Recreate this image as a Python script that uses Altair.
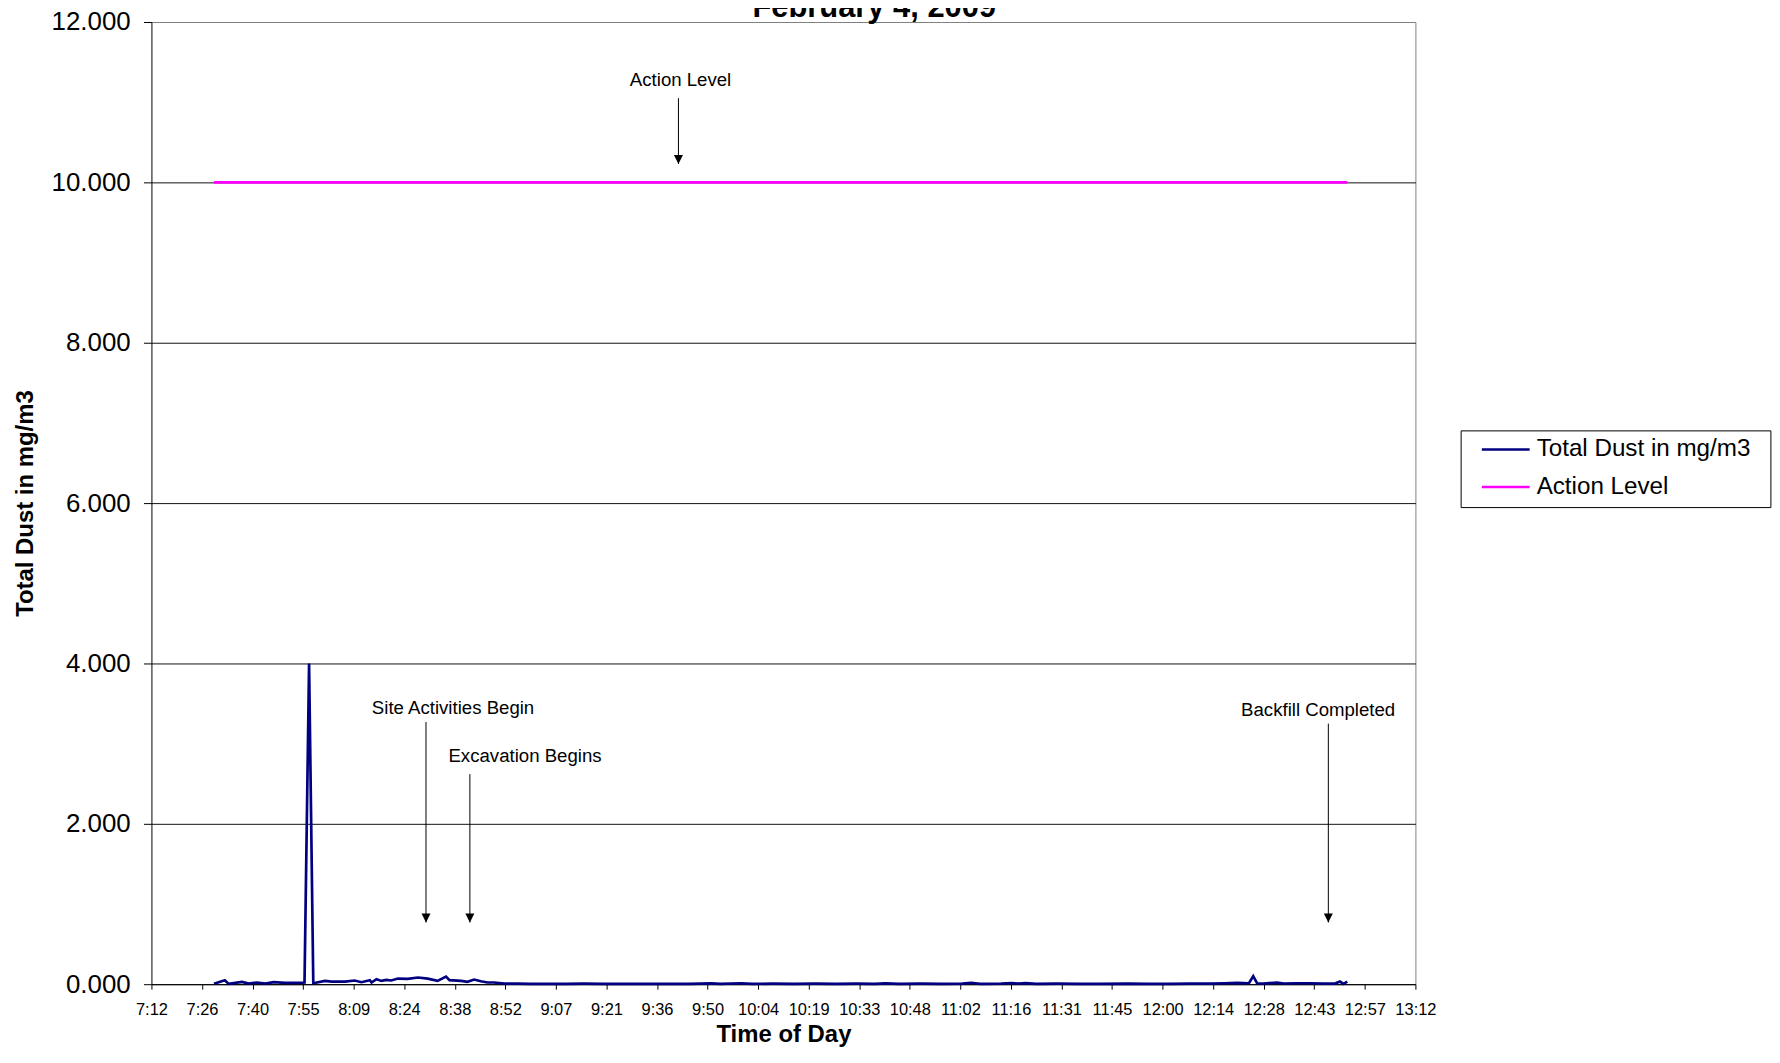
import altair as alt
import pandas as pd

FONT = "Liberation Sans"

CHART_TITLE = "February 4, 2009"
X_TITLE = "Time of Day"
Y_TITLE = "Total Dust in mg/m3"
SERIES = ["Total Dust in mg/m3", "Action Level"]
SERIES_COLORS = ["#000080", "#FF00FF"]

X_TICK_LABELS = ["7:12", "7:26", "7:40", "7:55", "8:09", "8:24", "8:38", "8:52",
                 "9:07", "9:21", "9:36", "9:50", "10:04", "10:19", "10:33", "10:48",
                 "11:02", "11:16", "11:31", "11:45", "12:00", "12:14", "12:28",
                 "12:43", "12:57", "13:12"]
X_START = 0.30   # Excel day fraction of first tick (7:12)
X_STEP = 0.01    # Excel major unit (14.4 minutes)
Y_TICKS = [0, 2, 4, 6, 8, 10, 12]

DUST_TIMES = [
    "7:29:48", "7:32:54", "7:34:00", "7:37:48", "7:39:42", "7:42:06", "7:44:24",
    "7:46:48", "7:50:06", "7:53:54", "7:55:36", "7:56:54", "7:58:06", "8:01:24",
    "8:03:18", "8:07:06", "8:09:54", "8:11:48", "8:14:12", "8:14:42", "8:16:06",
    "8:17:30", "8:18:54", "8:20:18", "8:22:12", "8:25:00", "8:27:54", "8:30:42",
    "8:33:30", "8:35:54", "8:36:54", "8:40:12", "8:42:00", "8:43:54", "8:45:48",
    "8:47:42", "8:49:36", "8:52:30", "8:56:12", "9:00:00", "9:04:00", "9:10:00",
    "9:15:00", "9:21:00", "9:27:00", "9:33:00", "9:39:00", "9:45:00", "9:51:30",
    "9:54:00", "10:00:00", "10:03:00", "10:09:00", "10:15:00", "10:21:00",
    "10:27:00", "10:33:00", "10:38:00", "10:41:00", "10:45:00", "10:51:00",
    "10:57:00", "11:03:00", "11:05:30", "11:08:00", "11:14:00", "11:17:00",
    "11:19:00", "11:21:00", "11:24:00", "11:30:00", "11:36:00", "11:42:00",
    "11:50:00", "11:56:00", "12:02:00", "12:08:00", "12:14:00", "12:17:30",
    "12:21:18", "12:24:36", "12:25:48", "12:26:54", "12:28:48", "12:32:36",
    "12:34:30", "12:38:12", "12:42:00", "12:45:48", "12:49:06", "12:50:30",
    "12:51:30", "12:52:36",
]
DUST_VALUES = [
    0.005, 0.050, 0.004, 0.029, 0.008, 0.021, 0.008,
    0.025, 0.017, 0.017, 0.021, 4.000, 0.012, 0.041,
    0.033, 0.033, 0.046, 0.025, 0.050, 0.021, 0.062,
    0.041, 0.054, 0.046, 0.070, 0.066, 0.083, 0.070,
    0.041, 0.095, 0.050, 0.041, 0.029, 0.058, 0.037,
    0.021, 0.021, 0.008, 0.008, 0.004, 0.005, 0.004,
    0.006, 0.004, 0.005, 0.004, 0.005, 0.004, 0.010,
    0.004, 0.012, 0.004, 0.006, 0.004, 0.006,
    0.005, 0.006, 0.004, 0.010, 0.004, 0.006,
    0.005, 0.006, 0.018, 0.005, 0.006, 0.015,
    0.006, 0.014, 0.005, 0.006, 0.005, 0.004,
    0.008, 0.005, 0.005, 0.006, 0.007, 0.012,
    0.016, 0.012, 0.100, 0.012, 0.008, 0.020,
    0.008, 0.012, 0.012, 0.008, 0.008, 0.033,
    0.004, 0.033,
]
ACTION_LEVEL = 10.0

# annotation texts (centre time, baseline value)
NOTE_TEXTS = ["Action Level", "Site Activities Begin", "Excavation Begins", "Backfill Completed"]
NOTE_TEXT_TIMES = ["9:42:42", "8:37:54", "8:58:24", "12:44:18"]
NOTE_TEXT_VALUES = [11.20, 3.37, 2.77, 3.35]
# annotation arrows (time, top value, tip value)
ARROW_TIMES = ["9:42:06", "8:30:12", "8:42:42", "12:47:12"]
ARROW_TOPS = [11.05, 3.27, 2.62, 3.25]
ARROW_TIPS = [10.23, 0.77, 0.77, 0.77]


def day_frac(t):
    parts = [int(p) for p in t.split(":")]
    while len(parts) < 3:
        parts.append(0)
    h, m, s = parts
    return (h * 3600 + m * 60 + s) / 86400.0


x_ticks = [round(X_START + i * X_STEP, 4) for i in range(len(X_TICK_LABELS))]
label_array = "[" + ",".join("'" + s + "'" for s in X_TICK_LABELS) + "]"
label_expr = f"{label_array}[round((datum.value - {X_START}) / {X_STEP})]"

dust_x = [day_frac(t) for t in DUST_TIMES]
lines_df = pd.DataFrame({
    "x": dust_x + [dust_x[0], dust_x[-1]],
    "y": DUST_VALUES + [ACTION_LEVEL, ACTION_LEVEL],
    "series": [SERIES[0]] * len(dust_x) + [SERIES[1]] * 2,
})
notes_df = pd.DataFrame({
    "x": [day_frac(t) for t in NOTE_TEXT_TIMES],
    "y": NOTE_TEXT_VALUES,
    "label": NOTE_TEXTS,
})
arrows_df = pd.DataFrame({
    "x": [day_frac(t) for t in ARROW_TIMES],
    "y": ARROW_TOPS,
    "y2": ARROW_TIPS,
})
tips_df = pd.DataFrame({
    "x": [day_frac(t) for t in ARROW_TIMES],
    "y": ARROW_TIPS,
})
title_df = pd.DataFrame({"label": [CHART_TITLE]})

W, H = 1269, 966

x_scale = alt.Scale(domain=[x_ticks[0], x_ticks[-1]], nice=False, zero=False)
y_scale = alt.Scale(domain=[Y_TICKS[0], Y_TICKS[-1]], nice=False)

x_axis = alt.Axis(
    values=x_ticks, labelExpr=label_expr, title=X_TITLE,
    labelFont=FONT, labelFontSize=16.5, labelColor="black",
    labelBaseline="alphabetic", labelPadding=25.5, labelFlush=False,
    labelOverlap=False, labelAngle=0,
    tickColor="black", tickSize=5, tickWidth=1,
    domainColor="black", domainWidth=1,
    grid=True, gridColor="#808080", gridWidth=1,
    gridOpacity={"condition": {"test": "datum.value > 0.5499", "value": 1}, "value": 0},
    titleFont=FONT, titleFontSize=24, titleFontWeight="bold", titleColor="black",
    titleX=W / 2, titleY=58, titleBaseline="alphabetic", titleAlign="center",
)
y_axis = alt.Axis(
    values=Y_TICKS, format=".3f", title=Y_TITLE,
    labelFont=FONT, labelFontSize=26, labelColor="black",
    labelPadding=13.3, labelFlush=False, labelOverlap=False,
    tickColor="black", tickSize=8, tickWidth=1,
    domainColor="black", domainWidth=1,
    grid=True, gridWidth=1,
    gridColor={"condition": {"test": "datum.value >= 12", "value": "#808080"}, "value": "#111111"},
    titleFont=FONT, titleFontSize=24, titleFontWeight="bold", titleColor="black",
    titleX=-119, titleY=H / 2, titleAngle=270, titleBaseline="alphabetic", titleAlign="center",
)


def X():
    return alt.X("x:Q", scale=x_scale, axis=x_axis)


def Y():
    return alt.Y("y:Q", scale=y_scale, axis=y_axis)


legend = alt.Legend(
    title=".", titleColor="white", titleFontSize=6, titleOrient="right",
    titlePadding=11,
    orient="none", legendX=1314.4, legendY=410,
    strokeColor="black", fillColor="white", padding=7,
    symbolType="M-4,0H4", symbolSize=144, symbolStrokeWidth=2.5,
    symbolOffset=26.15, labelOffset=18.85,
    labelFont=FONT, labelFontSize=24.3, labelColor="black", labelLimit=500,
    rowPadding=12.7,
)

lines = alt.Chart(lines_df).mark_line(strokeWidth=2.7).encode(
    x=X(), y=Y(),
    color=alt.Color("series:N", scale=alt.Scale(domain=SERIES, range=SERIES_COLORS),
                    legend=legend, sort=SERIES),
)

arrow_lines = alt.Chart(arrows_df).mark_rule(color="black", strokeWidth=1).encode(
    x=X(), y=Y(), y2="y2:Q",
)

arrow_heads = alt.Chart(tips_df).mark_point(
    shape="M-0.5,-1L0.5,-1L0,0Z", size=324, filled=True, color="black",
    opacity=1, strokeWidth=0,
).encode(x=X(), y=Y())

notes = alt.Chart(notes_df).mark_text(
    font=FONT, fontSize=18.7, color="black", align="center", baseline="alphabetic",
).encode(x=X(), y=Y(), text="label:N")

title_mark = alt.Chart(title_df).mark_text(
    font=FONT, fontSize=31, fontWeight="bold", color="black",
    align="center", baseline="alphabetic",
).encode(x=alt.value(725.7), y=alt.value(-5), text="label:N")

chart = alt.layer(lines, arrow_lines, arrow_heads, notes, title_mark).properties(
    width=W, height=H,
    autosize=alt.AutoSizeParams(type="none"),
    padding={"left": 144, "top": 12, "right": 358, "bottom": 63},
    background="white",
).configure_view(strokeWidth=0)

chart.save("out.html", embed_options={"renderer": "svg", "actions": False})
